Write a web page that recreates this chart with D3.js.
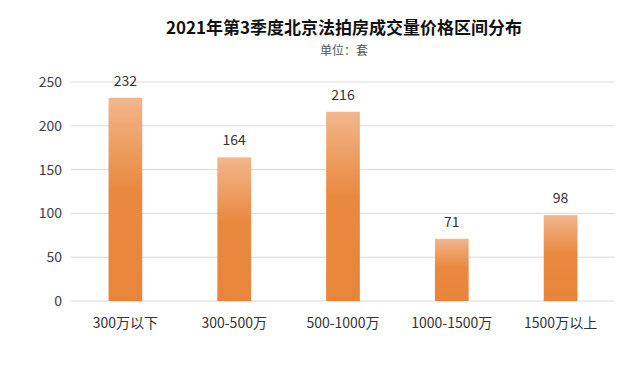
<!DOCTYPE html>
<html>
<head>
<meta charset="utf-8">
<script src="https://cdn.jsdelivr.net/npm/d3@7"></script>
<style>
  body { margin: 0; background: #fff; }
  text { font-family: "Noto Sans CJK SC", "Noto Sans", sans-serif; }
</style>
</head>
<body>
<div id="chart"></div>
<script>
const categories = ['300万以下', '300-500万', '500-1000万', '1000-1500万', '1500万以上'],
   values = [232, 164, 216, 71, 98],
   yTicks = [0, 50, 100, 150, 200, 250];

const width = 640,
   height = 369,
   margin = {top: 82, right: 25, bottom: 68, left: 71};

const svg = d3.select('#chart')
   .append('svg')
   .attr('width', width)
   .attr('height', height);

const defs = svg.append('defs');
const grad = defs.append('linearGradient')
   .attr('id', 'barGrad')
   .attr('x1', 0).attr('x2', 0).attr('y1', 0).attr('y2', 1);
grad.append('stop').attr('offset', '0%').attr('stop-color', '#F2B68C');
grad.append('stop').attr('offset', '45%').attr('stop-color', '#E9893F');
grad.append('stop').attr('offset', '100%').attr('stop-color', '#E8853A');

const x = d3.scaleBand()
   .domain(categories)
   .range([margin.left, width - margin.right])
   .paddingInner(0.69)
   .paddingOuter(0.345);

const y = d3.scaleLinear()
   .domain([0, 250])
   .range([height - margin.bottom, margin.top]);

// gridlines
svg.append('g')
   .selectAll('line')
   .data(yTicks)
   .join('line')
   .attr('x1', margin.left)
   .attr('x2', width - margin.right)
   .attr('y1', d => y(d))
   .attr('y2', d => y(d))
   .attr('stroke', '#d9d9d9')
   .attr('stroke-width', 1);

// y tick labels
svg.append('g')
   .selectAll('text')
   .data(yTicks)
   .join('text')
   .attr('x', margin.left - 9)
   .attr('y', d => y(d))
   .attr('dy', '0.35em')
   .attr('text-anchor', 'end')
   .attr('font-size', 14)
   .attr('fill', '#404040')
   .text(d => d);

// bars
svg.append('g')
   .selectAll('rect')
   .data(values)
   .join('rect')
   .attr('x', (d, i) => x(categories[i]))
   .attr('y', d => y(d))
   .attr('width', x.bandwidth())
   .attr('height', d => y(0) - y(d))
   .attr('fill', 'url(#barGrad)');

// value labels
svg.append('g')
   .selectAll('text')
   .data(values)
   .join('text')
   .attr('x', (d, i) => x(categories[i]) + x.bandwidth() / 2)
   .attr('y', d => y(d) - 12)
   .attr('text-anchor', 'middle')
   .attr('font-size', 14)
   .attr('fill', '#333')
   .text(d => d);

// category labels
svg.append('g')
   .selectAll('text')
   .data(categories)
   .join('text')
   .attr('x', d => x(d) + x.bandwidth() / 2)
   .attr('y', y(0) + 27)
   .attr('text-anchor', 'middle')
   .attr('font-size', 14)
   .attr('fill', '#333')
   .text(d => d);

// titles
svg.append('text')
   .attr('x', 344)
   .attr('y', 34)
   .attr('text-anchor', 'middle')
   .attr('font-size', 17)
   .attr('font-weight', 'bold')
   .attr('fill', '#111')
   .text('2021年第3季度北京法拍房成交量价格区间分布');

svg.append('text')
   .attr('x', 344)
   .attr('y', 55)
   .attr('text-anchor', 'middle')
   .attr('font-size', 12)
   .attr('fill', '#555')
   .text('单位：套');
</script>
</body>
</html>
